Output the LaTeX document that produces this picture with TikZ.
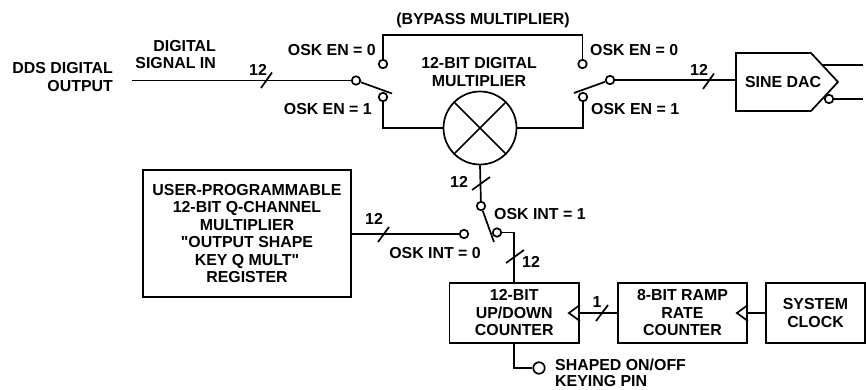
\documentclass[tikz,border=0pt]{standalone}
\usepackage{fontspec}
\newfontfamily\plainsans{Liberation Sans}
\usetikzlibrary{calc}
\tikzset{
  wire/.style={line width=1.7pt,line cap=butt,line join=miter},
  txt/.style={inner sep=0pt,align=center,font=\plainsans\fontsize{15.9}{17.5}\selectfont\bfseries},
  txtl/.style={txt,align=left,anchor=west},
  txtr/.style={txt,align=right,anchor=east},
  contact/.style={circle,draw,line width=1.7pt,fill=white,inner sep=0pt,minimum size=8.5pt},
  bigpin/.style={contact,minimum size=11.5pt},
  blockbox/.style={draw,line width=1.7pt,inner sep=0pt,fill=white},
  mult/.style={circle,draw,line width=1.7pt,inner sep=0pt,minimum size=73pt},
}
\begin{document}
\begin{tikzpicture}[x=1pt,y=-1pt]
\useasboundingbox (0,0) rectangle (866,389);
% texts
\node[txtr] (ddsout) at (113,77) {DDS DIGITAL\\OUTPUT};
\node[txtr] (sigin) at (216,54.5) {DIGITAL\\SIGNAL IN};
\node[txt] (bypass) at (483,20) {(BYPASS MULTIPLIER)};
\node[txtr] (en0l) at (376,50) {OSK EN = 0};
\node[txtr] (en1l) at (372,109) {OSK EN = 1};
\node[txtl] (en0r) at (590,50) {OSK EN = 0};
\node[txtl] (en1r) at (591,109) {OSK EN = 1};
\node[txt] (multlbl) at (479,72) {12-BIT DIGITAL\\MULTIPLIER};
\node[txt] (intz) at (435,253) {OSK INT = 0};
\node[txtl] (into) at (494,214) {OSK INT = 1};
\node[txtl] (keying) at (555,372.5) {SHAPED ON/OFF\\[-1.5pt]KEYING PIN};
% bit-width labels
\node[txt] (w1) at (258,70) {12};
\node[txt] (w2) at (699,70) {12};
\node[txt] (w3) at (459,182) {12};
\node[txt] (w4) at (374,219) {12};
\node[txt] (w5) at (531,262) {12};
\node[txt] (w6) at (597,302) {1};
% blocks
\node[mult] (mul) at (480,128) {};
\node[blockbox,txt,minimum width=208pt,minimum height=127pt] (qreg) at (247,233.5) {USER-PROGRAMMABLE\\12-BIT Q-CHANNEL\\MULTIPLIER\\"OUTPUT SHAPE\\KEY Q MULT"\\REGISTER};
\node[blockbox,txt,minimum width=129.5pt,minimum height=60pt] (ctr) at (514.25,313) {12-BIT\\UP/DOWN\\COUNTER};
\node[blockbox,txt,minimum width=129pt,minimum height=60pt] (ramp) at (682.5,313) {8-BIT RAMP\\RATE\\COUNTER};
\node[blockbox,txt,minimum width=99pt,minimum height=60pt] (clk) at (815.5,313) {SYSTEM\\CLOCK};
% DAC
\coordinate (dacin) at (736,80);
\draw[wire,fill=white] (736,53) -- (811,53) -- (838,82) -- (811,111) -- (736,111) -- cycle;
\node[txt] (daclbl) at (783,82) {SINE DAC};
% contacts
\node[contact] (l0) at (383,64) {};
\node[contact] (l1) at (383,97) {};
\node[contact] (lc) at (356,80.5) {};
\node[contact] (r0) at (582.5,64) {};
\node[contact] (r1) at (583,97) {};
\node[contact] (rc) at (610,80) {};
\node[contact] (ic) at (481,206) {};
\node[contact] (i0) at (464,234) {};
\node[contact] (i1) at (497,232.5) {};
\node[contact] (dacn) at (829,99) {};
\node[bigpin] (pin) at (539,368) {};
% free ends and bends
\coordinate (start) at (132,80.5);
\coordinate (topl) at (383,35);
\coordinate (topr) at (582.5,35);
\coordinate (botl) at (383,128);
\coordinate (botr) at (583,128);
\coordinate (lb) at (392,93.5);
\coordinate (rb) at (574,93);
\coordinate (ib) at (494,242);
\coordinate (dq) at (863,65);
\coordinate (dqn) at (863,99);
\coordinate (dqs) at (822,65);
% connectors
\draw[wire] (start) -- (lc);
\draw[wire] (lc) -- (lb);
\draw[wire] (l0) -- (topl) -- (topr) -- (r0);
\draw[wire] (l1) -- (botl) -- (mul.west);
\draw[wire] (mul.east) -- (botr) -- (r1);
\draw[wire] (rc) -- (rb);
\draw[wire] (rc) -- (dacin);
\draw[wire] (dqs) -- (dq);
\draw[wire] (dacn) -- (dqn);
\draw[wire] (mul.45) -- (mul.225);
\draw[wire] (mul.135) -- (mul.315);
\draw[wire] (mul.south) -- (ic);
\draw[wire] (ic) -- (ib);
\draw[wire] (qreg.east |- i0) -- (i0);
\draw[wire] (i1) -| (ctr.north);
\draw[wire] (ramp.west) -- (ctr.east);
\draw[wire] (clk.west) -- (ramp.east);
\draw[wire] (ctr.south) |- (pin);
% clock triangles
\draw[wire] (ctr.east) ++(0,-8) -- ++(-11,8) -- ++(11,8);
\draw[wire] (ramp.east) ++(0,-8) -- ++(-11,8) -- ++(11,8);
% width ticks
\foreach \a/\b in {261/88,703/89}{\draw[wire] (\a,\b) -- ++(11,-15.5);}
\draw[wire] (472,190) -- (490,177);
\draw[wire] (506,263) -- (524,250);
\draw[wire] (378,242) -- (389,227);
\draw[wire] (596,321) -- (608,305);
\end{tikzpicture}
\end{document}
